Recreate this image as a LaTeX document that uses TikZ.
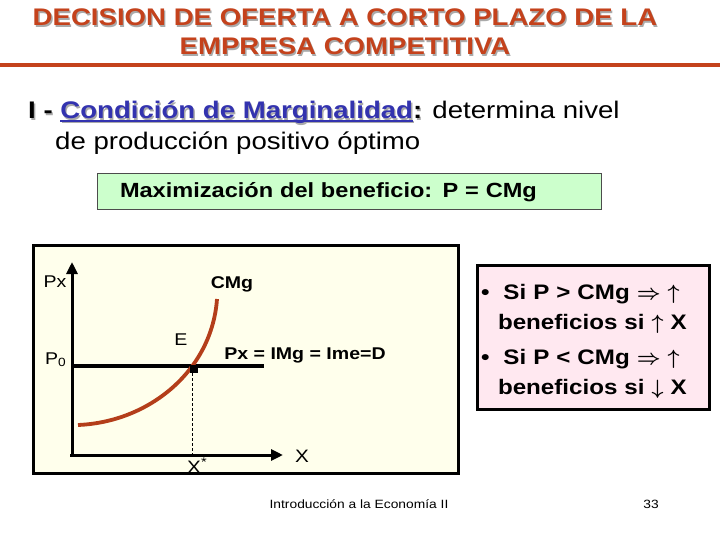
\documentclass[tikz,border=0pt]{standalone}
\usepackage{fontspec}
\setmainfont{Liberation Sans}[FakeStretch=1.15]
\usetikzlibrary{arrows.meta}
\definecolor{rojizo}{RGB}{196,66,28}
\definecolor{azul}{RGB}{51,51,175}
\definecolor{curva}{RGB}{180,62,26}
\definecolor{verde}{RGB}{204,255,204}
\definecolor{crema}{RGB}{255,255,236}
\definecolor{rosa}{RGB}{255,232,240}
\definecolor{gris}{RGB}{170,170,170}
\newcommand{\sombra}[1]{\makebox[0pt][l]{\hspace{1.3pt}\raisebox{-1.3pt}{\textcolor{gris}{#1}}}#1}
\newcommand{\subr}[1]{\setbox0\hbox{#1}\rlap{\rule[-2.6pt]{\wd0}{1.6pt}}\box0}
\newcommand{\flecha}[1]{{\boldmath$#1$}}
\tikzstyle{titulo}=[rojizo,anchor=base,inner sep=0,font=\fontsize{24}{29}\selectfont\bfseries]
\tikzstyle{texto}=[anchor=base west,inner sep=0,font=\fontsize{24}{29}\selectfont]
\tikzstyle{caja}=[draw=black!70,line width=1pt,fill=verde,minimum width=504,minimum height=36,inner xsep=23,text width=458,align=left,font=\fontsize{20.5}{24}\selectfont\bfseries]
\tikzstyle{marco}=[draw=black,line width=3pt]
\tikzstyle{eje}=[line width=3pt,-{Triangle[length=12pt,width=11pt]}]
\tikzstyle{etiq}=[anchor=base,inner sep=0,font=\fontsize{17}{20}\selectfont]
\tikzstyle{punto}=[rectangle,fill=black,minimum size=8pt,inner sep=0]
\tikzstyle{pie}=[anchor=base,inner sep=0,font=\fontsize{12}{14}\selectfont]
\begin{document}
\begin{tikzpicture}[x=1pt,y=-1pt]
\useasboundingbox (0,0) rectangle (720,540);
\fill[white] (0,0) rectangle (720,540);

% titulo
\node[titulo] (tit1) at (345,26) {\sombra{DECISION DE OFERTA A CORTO PLAZO DE LA}};
\node[titulo] (tit2) at (345,55) {\sombra{EMPRESA COMPETITIVA}};
\draw[rojizo,line width=3.5pt] (0,65)--(720,65);

\node[texto] (cond) at (28,119) {{\bfseries\sombra{I - }\textcolor{azul}{\sombra{\subr{Condición de Marginalidad}}}\sombra{:}} determina nivel};
\node[texto] (prod) at (55,150) {de producción positivo óptimo};
\node[caja] (maxim) at (349,192) {Maximización del beneficio: P = CMg};

% grafico
\filldraw[marco,fill=crema] (33,245) rectangle (458,473);
\coordinate (O) at (72,455);
\coordinate (ytop) at (72,262);
\coordinate (xfin) at (283,455);
\coordinate (P0) at (72,366);
\coordinate (Dfin) at (264,366);
\draw[eje] (72,457)--(ytop);
\draw[eje] (70,455)--(xfin);
\draw[line width=3.5pt] (P0)--(Dfin);
\draw[curva,line width=3.8pt] (78,425) .. controls (150,422) and (212,370) .. (217,299);
\node[punto] (E) at (194,369) {};
\draw[dashed,dash pattern=on 3pt off 2pt] (192,373)--(192,455);
\node[etiq] (lpx) at (55,287) {Px};
\node[etiq,font=\fontsize{17}{20}\selectfont\bfseries] (lcmg) at (232,288) {CMg};
\node[etiq] (le) at (181,345) {E};
\node[etiq,anchor=base west] (lp0) at (45,364) {P\textsubscript{0}};
\node[etiq,font=\fontsize{17}{20}\selectfont\bfseries] (ld) at (305,359) {Px = IMg = Ime=D};
\node[etiq,anchor=base west,font=\fontsize{18}{20}\selectfont] (lxs) at (187,473) {X\textsuperscript{*}};
\node[etiq,font=\fontsize{18}{20}\selectfont] (lx) at (302,462) {X};

% reglas
\node[marco,fill=rosa,minimum width=232,minimum height=144,text width=224,inner xsep=4,align=left,font=\fontsize{21}{30}\selectfont\bfseries] (reglas) at (593,337)
 {\rule{0pt}{24pt}\textbullet\hspace{14pt}Si P > CMg \flecha{\Rightarrow} \flecha{\uparrow}\\
  \hspace{17pt}beneficios si \flecha{\uparrow} X\\[5pt]
  \textbullet\hspace{14pt}Si P < CMg \flecha{\Rightarrow} \flecha{\uparrow}\\
  \hspace{17pt}beneficios si \flecha{\downarrow} X};

\node[pie] (curso) at (359,508) {Introducción a la Economía II};
\node[pie] (pag) at (651,508) {33};
\end{tikzpicture}
\end{document}
